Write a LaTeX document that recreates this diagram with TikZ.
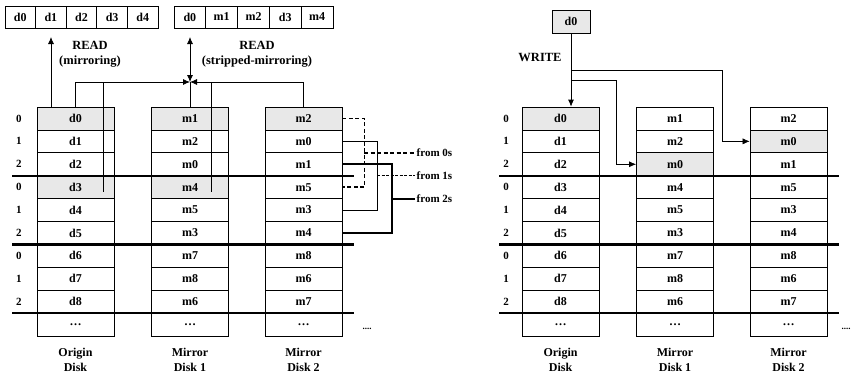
\documentclass[tikz,border=0pt]{standalone}
\usepackage{fontspec}
\setmainfont{Liberation Serif}
\usetikzlibrary{arrows.meta}
\begin{document}
\begin{tikzpicture}[x=1pt,y=-1pt,
  cell/.style={draw, line width=0.7pt, minimum width=77pt, minimum height=22.9pt, inner sep=0pt, font=\fontsize{12}{14}\selectfont\bfseries},
  tcell/.style={draw, line width=0.7pt, minimum height=22pt, inner sep=0pt, font=\fontsize{12}{14}\selectfont\bfseries},
  rowlbl/.style={font=\fontsize{11}{13}\selectfont\bfseries},
  heavy/.style={line width=2.4pt},
  conn/.style={line width=0.8pt},
  tip/.style={-{Latex[length=7pt,width=6pt]}},
  lbl/.style={align=center, font=\fontsize{12}{15.5}\selectfont\bfseries},
  rlbl/.style={align=center, font=\fontsize{12.5}{15}\selectfont\bfseries},
  fromlbl/.style={anchor=west, inner sep=1.5pt, font=\fontsize{11}{13}\selectfont\bfseries},
]
\useasboundingbox (0,0) rectangle (853,376);

% ---------------- LEFT DIAGRAM ----------------
\foreach \t/\s [count=\i from 0] in {d0/18,d1/0,d2/0,d3/18,d4/0,d5/0,d6/0,d7/0,d8/0,\ldots/0}
  \node[cell, fill=gray!\s] (Lo\i) at (75.5,{118.45+22.9*\i}) {\t};
\foreach \t/\s [count=\i from 0] in {m1/18,m2/0,m0/0,m4/18,m5/0,m3/0,m7/0,m8/0,m6/0,\ldots/0}
  \node[cell, fill=gray!\s] (Lk\i) at (190,{118.45+22.9*\i}) {\t};
\foreach \t/\s [count=\i from 0] in {m2/18,m0/0,m1/0,m5/0,m3/0,m4/0,m8/0,m6/0,m7/0,\ldots/0}
  \node[cell, fill=gray!\s] (Lm\i) at (303.5,{118.45+22.9*\i}) {\t};

% ---------------- RIGHT DIAGRAM ----------------
\foreach \t/\s [count=\i from 0] in {d0/18,d1/0,d2/0,d3/0,d4/0,d5/0,d6/0,d7/0,d8/0,\ldots/0}
  \node[cell, fill=gray!\s] (Ro\i) at (560.5,{118.45+22.9*\i}) {\t};
\foreach \t/\s [count=\i from 0] in {m1/0,m2/0,m0/18,m4/0,m5/0,m3/0,m7/0,m8/0,m6/0,\ldots/0}
  \node[cell, fill=gray!\s] (Rk\i) at (675,{118.45+22.9*\i}) {\t};
\foreach \t/\s [count=\i from 0] in {m2/0,m0/18,m1/0,m5/0,m3/0,m4/0,m8/0,m6/0,m7/0,\ldots/0}
  \node[cell, fill=gray!\s] (Rm\i) at (788.5,{118.45+22.9*\i}) {\t};

% row numbers
\foreach \n [count=\i from 0] in {0,1,2,0,1,2,0,1,2} {
  \node[rowlbl] (Ln\i) at (19,{118.45+22.9*\i}) {\n};
  \node[rowlbl] (Rn\i) at (506,{118.45+22.9*\i}) {\n};
}

% heavy group separators
\foreach \y in {175.7,244.4,313.1} {
  \draw[heavy] (12,\y) -- (354,\y);
  \draw[heavy] (499,\y) -- (839,\y);
}

% disk labels
\node[lbl] (LbO) at (75.5,360) {Origin\\Disk};
\node[lbl] (LbA) at (190,360) {Mirror\\Disk 1};
\node[lbl] (LbB) at (303.5,360) {Mirror\\Disk 2};
\node[lbl] (RbO) at (560.5,360) {Origin\\Disk};
\node[lbl] (RbA) at (675,360) {Mirror\\Disk 1};
\node[lbl] (RbB) at (788.5,360) {Mirror\\Disk 2};
\node[font=\fontsize{9}{10}\selectfont\bfseries] (Ldots) at (367,329) {....};
\node[font=\fontsize{9}{10}\selectfont\bfseries] (Rdots) at (846,329) {....};

% top read buffers
\foreach \t [count=\i from 0] in {d0,d1,d2,d3,d4}
  \node[tcell, minimum width=30.6pt] (A\i) at ({20.3+30.6*\i},17) {\t};
\foreach \t [count=\i from 0] in {d0,m1,m2,d3,m4}
  \node[tcell, minimum width=31.8pt] (B\i) at ({189.9+31.8*\i},17) {\t};

\node[rlbl] (R1) at (90,54) {READ\\(mirroring)};
\node[rlbl] (R2) at (257,54) {READ\\(stripped-mirroring)};

% READ (mirroring)
\coordinate (tipL) at (51,37);
\draw[conn,tip] (Lo0.north -| tipL) -- (tipL);

% READ (stripped-mirroring)
\coordinate (J) at (190,82);
\coordinate (tipR) at (190,37);
\draw[conn,{Latex[length=7pt,width=6pt]}-{Latex[length=7pt,width=6pt]}] (J) -- (tipR);
\draw[conn,tip] (Lo0.north) |- (J);
\draw[conn,tip] (Lm0.north) |- (J);
\draw[conn] (Lk0.north) -- (J);
\coordinate (io) at (103,192);
\coordinate (ik) at (211,192);
\draw[conn] (io |- J) -- (io);
\draw[conn] (ik |- J) -- (ik);

% from 0s / 1s / 2s
\node[fromlbl] (f0) at (415,152.8) {from 0s};
\node[fromlbl] (f1) at (415,175.7) {from 1s};
\node[fromlbl] (f2) at (415,198.6) {from 2s};
\draw[line width=1.6pt, dash pattern=on 4pt off 2.5pt] (Lm0.east) -- ++(22,0) |- (Lm3.east);
\draw[line width=1.6pt, dash pattern=on 4pt off 2.5pt] (364,152.8) -- (f0.west);
\draw[conn] (Lm1.east) -- ++(35,0) |- (Lm4.east);
\draw[line width=0.5pt, dash pattern=on 3pt off 1.5pt] (377,175.7) -- (f1.west);
\draw[line width=1.8pt] (Lm2.east) -- ++(50,0) |- (Lm5.east);
\draw[line width=1.8pt] (392,198.6) -- (f2.west);

% WRITE
\node[tcell, minimum width=38pt, minimum height=23pt, fill=gray!18] (W) at (571,21.5) {d0};
\node[rlbl] (WL) at (540,57) {WRITE};
\draw[conn,tip] (W.south) -- (W.south |- Ro0.north);
\coordinate (w1) at (571,70);
\coordinate (w2) at (571,80);
\draw[line width=0.6pt,tip] (w1) -| ([xshift=-27pt]Rm1.west) -- (Rm1.west);
\draw[conn,tip] (w2) -| ([xshift=-20pt]Rk2.west) -- (Rk2.west);
\end{tikzpicture}
\end{document}
